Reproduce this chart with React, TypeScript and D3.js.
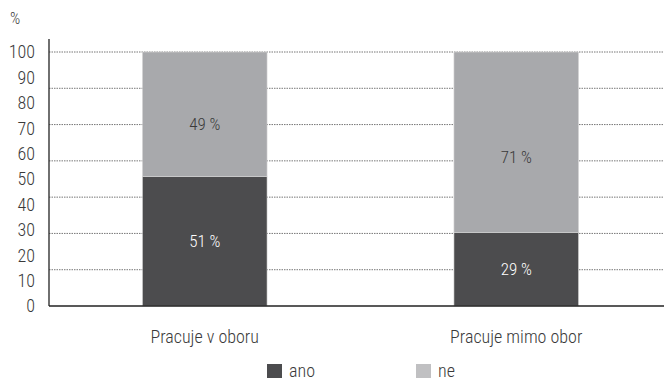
import React from "react";
import * as d3 from "d3";

const categories = ["Pracuje v oboru", "Pracuje mimo obor"];
const seriesNames = ["ano", "ne"];
const anoValues = [51, 29];
const neValues = [49, 71];
const yTickLabels = [0, 10, 20, 30, 40, 50, 60, 70, 80, 90, 100];
const gridSteps = 7;

const W = 664;
const H = 383;
const FONT = "'Liberation Sans Narrow', 'Roboto Condensed', Roboto, sans-serif";
const DARK = "#4c4c4e";
const LIGHT = "#a8a9ac";
const TEXT = "#3a3a3a";

export default function App() {
  const left = 49;
  const top = 52;
  const bottom = 306;
  const x = d3.scaleBand<string>().domain(categories).range([left, 672]).padding(0);
  const y = d3.scaleLinear().domain([0, 100]).range([bottom, top]);
  const barW = x.bandwidth() * 0.4;
  const gridVals = d3.range(1, gridSteps + 1).map((k) => (100 * k) / gridSteps);

  return (
    <div style={{ position: "absolute", left: 0, top: 0 }}>
      <svg width={W} height={H} style={{ display: "block", background: "#fff" }} fontFamily={FONT} fontWeight={300}>
        <text x={10} y={24} fontSize={16} fill={TEXT}>%</text>
        {gridVals.map((v, i) => (
          <line key={i} x1={left} x2={W} y1={y(v)} y2={y(v)} stroke="#777" strokeWidth={1} strokeDasharray="1.5,1" />
        ))}
        {categories.map((c, i) => {
          const cx = (x(c) as number) + x.bandwidth() / 2;
          const x0 = cx - barW / 2;
          const a = anoValues[i];
          const n = neValues[i];
          return (
            <g key={c}>
              <rect x={x0} width={barW} y={y(a)} height={y(0) - y(a)} fill={DARK} stroke="#d6d6d6" strokeWidth={0.6} />
              <rect x={x0} width={barW} y={y(a + n)} height={y(a) - y(a + n)} fill={LIGHT} stroke="#d6d6d6" strokeWidth={0.6} />
              <text x={cx} y={y(a / 2)} dy="0.35em" textAnchor="middle" fontSize={17} fill="#fff">{a} %</text>
              <text x={cx} y={y(a + n * 0.42)} dy="0.35em" textAnchor="middle" fontSize={17} fill={TEXT}>{n} %</text>
              <text x={cx} y={337} dy="0.35em" textAnchor="middle" fontSize={18} fill={TEXT}>{c}</text>
            </g>
          );
        })}
        <line x1={left} x2={left} y1={39} y2={bottom} stroke="#222" strokeWidth={1.3} />
        <line x1={left} x2={W} y1={bottom} y2={bottom} stroke="#222" strokeWidth={1.3} />
        {yTickLabels.map((t) => (
          <text key={t} x={35} y={y(t)} dy="0.35em" textAnchor="end" fontSize={18} fill={TEXT}>{t}</text>
        ))}
        {seriesNames.map((s, i) => {
          const lx = [267, 416][i];
          return (
            <g key={s}>
              <rect x={lx} y={364} width={15} height={14} fill={i === 0 ? DARK : "#c0c0c2"} />
              <text x={lx + 22} y={371} dy="0.35em" fontSize={18} fill={TEXT}>{s}</text>
            </g>
          );
        })}
      </svg>
    </div>
  );
}
